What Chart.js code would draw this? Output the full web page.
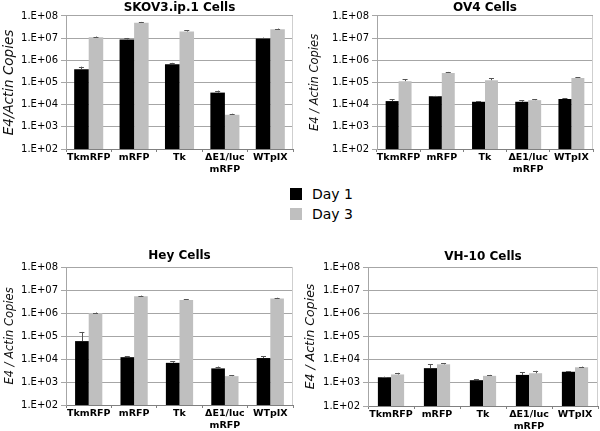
<!DOCTYPE html>
<html>
<head>
<meta charset="utf-8">
<script src="https://cdn.jsdelivr.net/npm/chart.js@4.4.1/dist/chart.umd.min.js"></script>
<style>
  body { margin: 0; background: #fff; }
  #wrap { position: relative; width: 600px; height: 431px; overflow: hidden; font-family: 'DejaVu Sans', sans-serif; }
  canvas { position: absolute; }
  .leg { position: absolute; left: 290px; font-size: 14px; line-height: 12px; color: #000; white-space: nowrap; }
  .sw { display: inline-block; width: 12px; height: 12px; margin-right: 10px; vertical-align: top; }
</style>
</head>
<body>
<div id="wrap">
  <canvas id="c1" width="300" height="180" style="left:0;top:0"></canvas>
  <canvas id="c2" width="300" height="180" style="left:300px;top:0"></canvas>
  <canvas id="c3" width="300" height="191" style="left:0;top:240px"></canvas>
  <canvas id="c4" width="300" height="191" style="left:300px;top:240px"></canvas>
  <div class="leg" style="top:188px"><span class="sw" style="background:#000"></span>Day 1</div>
  <div class="leg" style="top:208px"><span class="sw" style="background:#bfbfbf"></span>Day 3</div>
</div>
<script>
const categories = ['TkmRFP', 'mRFP', 'Tk', ['\u0394E1/luc', 'mRFP'], 'WTpIX'];
const seriesNames = ['Day 1', 'Day 3'];
const tickValues = [1e2, 1e3, 1e4, 1e5, 1e6, 1e7, 1e8];
const tickLabels = ['1.E+02', '1.E+03', '1.E+04', '1.E+05', '1.E+06', '1.E+07', '1.E+08'];

// SKOV3.ip.1
const skovDay1 = [4.0e5, 8.7e6, 6.7e5, 3.5e4, 9.6e6];
const skovDay3 = [1.1e7, 5.0e7, 2.0e7, 3.5e3, 2.5e7];
const skovErr1 = [1.2e5, 1.5e6, 1.0e5, 8.0e3, 1.0e6];
const skovErr3 = [8.0e5, 4.0e6, 3.0e6, 4.0e2, 2.0e6];

// OV4
const ov4Day1 = [1.45e4, 2.4e4, 1.35e4, 1.35e4, 1.8e4];
const ov4Day3 = [1.15e5, 2.7e5, 1.27e5, 1.6e4, 1.6e5];
const ov4Err1 = [3.0e3, 1.0e3, 1.0e3, 2.0e3, 2.0e3];
const ov4Err3 = [2.5e4, 3.0e4, 3.0e4, 2.0e3, 1.5e4];

// Hey
const heyDay1 = [6.0e4, 1.2e4, 6.8e3, 3.9e3, 1.1e4];
const heyDay3 = [1.0e6, 5.4e6, 3.7e6, 1.8e3, 4.3e6];
const heyErr1 = [9.0e4, 1.0e3, 1.0e3, 8.0e2, 2.0e3];
const heyErr3 = [5.0e4, 3.0e5, 3.0e5, 2.0e2, 3.0e5];

// VH-10
const vhDay1 = [1.74e3, 4.3e3, 1.3e3, 2.2e3, 3.0e3];
const vhDay3 = [2.3e3, 6.3e3, 2.0e3, 2.6e3, 4.7e3];
const vhErr1 = [1.0e2, 2.0e3, 1.0e2, 6.0e2, 2.0e2];
const vhErr3 = [4.0e2, 9.0e2, 2.0e2, 7.0e2, 3.0e2];

const FONT = "'DejaVu Sans', sans-serif";

const errorBars = {
  id: 'errorBars',
  afterDatasetsDraw(chart) {
    const ctx = chart.ctx;
    const y = chart.scales.y;
    chart.data.datasets.forEach((ds, i) => {
      const meta = chart.getDatasetMeta(i);
      meta.data.forEach((bar, j) => {
        const top = y.getPixelForValue(ds.data[j] + ds.errors[j]);
        ctx.save();
        ctx.strokeStyle = '#555555';
        ctx.lineWidth = 1;
        ctx.beginPath();
        ctx.moveTo(Math.round(bar.x) + 0.5, bar.y);
        ctx.lineTo(Math.round(bar.x) + 0.5, top);
        ctx.moveTo(bar.x - 2.5, Math.round(top) + 0.5);
        ctx.lineTo(bar.x + 2.5, Math.round(top) + 0.5);
        ctx.stroke();
        ctx.restore();
      });
    });
  }
};

const frame = {
  id: 'frame',
  beforeDatasetsDraw(chart) {
    const { ctx, chartArea: a } = chart;
    ctx.save();
    ctx.strokeStyle = '#cfcfcf';
    ctx.lineWidth = 1;
    ctx.beginPath();
    ctx.moveTo(Math.round(a.right) - 0.5, a.top);
    ctx.lineTo(Math.round(a.right) - 0.5, a.bottom);
    ctx.stroke();
    ctx.restore();
  }
};

function makeChart(id, title, yTitle, day1, day3, err1, err3, lay) {
  return new Chart(document.getElementById(id), {
    type: 'bar',
    data: {
      labels: categories,
      datasets: [
        { label: seriesNames[0], data: day1, errors: err1, backgroundColor: '#000000' },
        { label: seriesNames[1], data: day3, errors: err3, backgroundColor: '#bfbfbf' }
      ]
    },
    options: {
      responsive: false,
      animation: false,
      devicePixelRatio: 1,
      layout: { padding: { left: 0, right: lay.right, top: 0, bottom: 0 } },
      datasets: { bar: { categoryPercentage: lay.cat, barPercentage: 1 } },
      plugins: {
        legend: { display: false },
        tooltip: { enabled: false },
        title: {
          display: true,
          text: title,
          fullSize: false,
          color: '#000',
          font: { family: FONT, size: 12, weight: 'bold' },
          padding: { top: lay.tTop, bottom: lay.tBot }
        }
      },
      scales: {
        x: {
          grid: { display: true, drawOnChartArea: false, drawTicks: true, tickLength: 3, color: '#808080', offset: true },
          border: { color: '#808080' },
          ticks: { color: '#000', font: { family: FONT, size: 9.5, weight: 'bold', lineHeight: 1.2 }, padding: 0, maxRotation: 0, autoSkip: false },
          afterFit: s => { s.height = lay.xh; }
        },
        y: {
          type: 'logarithmic',
          min: 1e2,
          max: 1e8,
          afterBuildTicks: s => { s.ticks = tickValues.map(v => ({ value: v })); },
          grid: { color: '#a6a6a6', tickLength: 5 },
          border: { color: '#a6a6a6' },
          ticks: { color: '#000', font: { family: FONT, size: 10 }, padding: 3, callback: (v, i) => tickLabels[i] },
          title: {
            display: true,
            text: yTitle,
            color: '#111',
            font: { family: FONT, size: lay.ytSize, style: 'italic' },
            padding: { top: lay.ytp, bottom: 0 }
          },
          afterFit: s => { s.width = lay.yw; }
        }
      }
    },
    plugins: [frame, errorBars]
  });
}

makeChart('c1', 'SKOV3.ip.1 Cells', 'E4/Actin Copies', skovDay1, skovDay3, skovErr1, skovErr3,
  { yw: 66, right: 7, tTop: 1, tBot: 0.6, xh: 31, ytp: 1, ytSize: 13.5, cat: 0.64 });
makeChart('c2', 'OV4 Cells', 'E4 / Actin Copies', ov4Day1, ov4Day3, ov4Err1, ov4Err3,
  { yw: 77, right: 7, tTop: 1, tBot: 0.6, xh: 31, ytp: 8, ytSize: 11.5, cat: 0.6 });
makeChart('c3', 'Hey Cells', 'E4 / Actin Copies', heyDay1, heyDay3, heyErr1, heyErr3,
  { yw: 66, right: 7, tTop: 8.5, tBot: 4.1, xh: 26, ytp: 3, ytSize: 11.5, cat: 0.6 });
makeChart('c4', 'VH-10 Cells', 'E4 / Actin Copies', vhDay1, vhDay3, vhErr1, vhErr3,
  { yw: 68, right: 2, tTop: 9.5, tBot: 3.1, xh: 25, ytp: 3.5, ytSize: 12.5, cat: 0.57 });
</script>
</body>
</html>
